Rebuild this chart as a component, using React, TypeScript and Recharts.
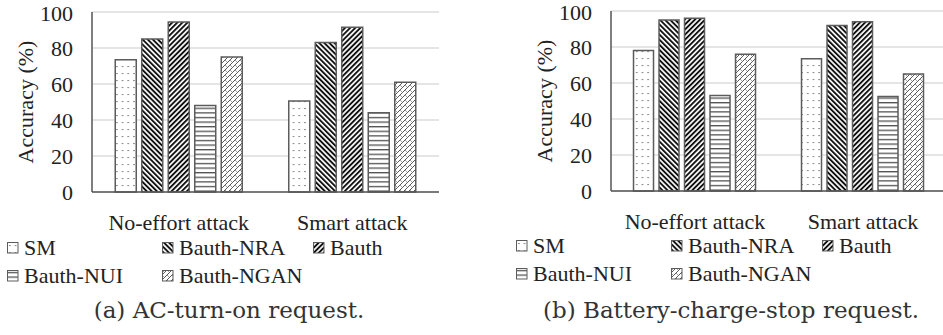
import { BarChart, Bar, XAxis, YAxis, CartesianGrid } from 'recharts';

const categories = ['No-effort attack', 'Smart attack'];
const seriesKeys = ['SM', 'NRA', 'Bauth', 'NUI', 'NGAN'];
const seriesNames = ['SM', 'Bauth-NRA', 'Bauth', 'Bauth-NUI', 'Bauth-NGAN'];
const yTicks = [0, 20, 40, 60, 80, 100];

// (a) AC-turn-on request
const acSM = [73.5, 50.5];
const acNRA = [85, 83];
const acBauth = [94.5, 91.5];
const acNUI = [48, 44];
const acNGAN = [75, 61];

// (b) Battery-charge-stop request
const batSM = [78, 73.5];
const batNRA = [95, 92];
const batBauth = [96, 94];
const batNUI = [53, 52.5];
const batNGAN = [76, 65];

const FONT = '"Liberation Serif", "Times New Roman", serif';
const TEXT = '#222';
const EDGE = '#5c5c5c';
const fills = ['dots', 'back', 'fwd', 'horiz', 'hatch'];

function buildRows(cols: number[][]) {
  return categories.map((name, i) => {
    const row: Record<string, string | number> = { name };
    seriesKeys.forEach((k, j) => (row[k] = cols[j][i]));
    return row;
  });
}

const acRows = buildRows([acSM, acNRA, acBauth, acNUI, acNGAN]);
const batRows = buildRows([batSM, batNRA, batBauth, batNUI, batNGAN]);

function Patterns({ id }: { id: string }) {
  return (
    <defs>
      <pattern id={`${id}-dots`} width={5.7} height={7} patternUnits="userSpaceOnUse">
        <rect width={5.7} height={7} fill="#fff" />
        <rect x={2.3} y={3} width={1.1} height={1.1} fill="#444" />
      </pattern>
      <pattern id={`${id}-back`} width={3.6} height={3.6} patternUnits="userSpaceOnUse" patternTransform="rotate(-45)">
        <rect width={3.6} height={3.6} fill="#fff" />
        <rect width={1.9} height={3.6} fill="#111" />
      </pattern>
      <pattern id={`${id}-fwd`} width={3.6} height={3.6} patternUnits="userSpaceOnUse" patternTransform="rotate(45)">
        <rect width={3.6} height={3.6} fill="#fff" />
        <rect width={1.9} height={3.6} fill="#111" />
      </pattern>
      <pattern id={`${id}-horiz`} width={6} height={4.6} patternUnits="userSpaceOnUse">
        <rect width={6} height={4.6} fill="#fff" />
        <rect y={2} width={6} height={1.1} fill="#333" />
      </pattern>
      <pattern id={`${id}-hatch`} width={5} height={5} patternUnits="userSpaceOnUse">
        <rect width={5} height={5} fill="#fff" />
        <path d="M0 5 L5 0 M-1 1 L1 -1 M4 6 L6 4" stroke="#444" strokeWidth={0.9} />
        <path d="M0 0 L2.5 2.5" stroke="#777" strokeWidth={0.7} />
      </pattern>
    </defs>
  );
}

function Legend({ id, left, top }: { id: string; left: number; top: number }) {
  const cols = [0, 155, 306];
  return (
    <div style={{ position: 'absolute', left, top, width: 460, height: 60 }}>
      {seriesNames.map((name, i) => (
        <div
          key={name}
          style={{
            position: 'absolute',
            left: cols[i % 3],
            top: Math.floor(i / 3) * 28,
            display: 'flex',
            alignItems: 'center',
            fontFamily: FONT,
            fontSize: 22,
            color: TEXT,
            lineHeight: '26px',
            whiteSpace: 'nowrap',
          }}
        >
          <svg width={12} height={12} style={{ marginRight: 5 }}>
            <Patterns id={`${id}-lg${i}`} />
            <rect x={0.5} y={0.5} width={10.5} height={10.5} fill={`url(#${id}-lg${i}-${fills[i]})`} stroke={EDGE} strokeWidth={1} />
          </svg>
          {name}
        </div>
      ))}
    </div>
  );
}

function Panel({ id, rows, marginLeft, width, marginRight }: { id: string; rows: Record<string, string | number>[]; marginLeft: number; width: number; marginRight: number }) {
  return (
    <BarChart
      width={width}
      height={240}
      data={rows}
      margin={{ top: 12, right: marginRight, left: marginLeft, bottom: 8 }}
      barCategoryGap="13.4%"
      barGap={5.5}
    >
      <Patterns id={id} />
      <CartesianGrid vertical={false} stroke="#dcdcdc" strokeWidth={1.5} />
      <XAxis
        dataKey="name"
        height={40}
        tickLine={false}
        tickSize={0}
        tickMargin={22}
        axisLine={{ stroke: '#555', strokeWidth: 1.5 }}
        tick={{ fill: TEXT, fontSize: 22, fontFamily: FONT }}
      />
      <XAxis xAxisId="top" orientation="top" dataKey="name" height={0} tick={false} tickLine={false} axisLine={{ stroke: '#555', strokeWidth: 1.5 }} />
      <YAxis
        width={92}
        domain={[0, 100]}
        ticks={yTicks}
        tickLine={false}
        tickSize={0}
        tickMargin={19}
        axisLine={{ stroke: '#555', strokeWidth: 1.5 }}
        tick={{ fill: TEXT, fontSize: 22, fontFamily: FONT }}
        label={{ value: 'Accuracy (%)', angle: -90, position: 'center', dx: -21, fill: TEXT, fontSize: 22, fontFamily: FONT }}
      />
      <YAxis yAxisId="right" orientation="right" width={0} domain={[0, 100]} tick={false} tickLine={false} axisLine={{ stroke: '#555', strokeWidth: 1.5 }} />
      {seriesKeys.map((k, i) => (
        <Bar
          key={k}
          dataKey={k}
          name={seriesNames[i]}
          fill={`url(#${id}-${fills[i]})`}
          stroke={EDGE}
          strokeWidth={1.5}
          isAnimationActive={false}
        />
      ))}
    </BarChart>
  );
}

const captionStyle = {
  position: 'absolute' as const,
  top: 297,
  fontFamily: '"DejaVu Serif", serif',
  fontSize: 23,
  color: '#333',
  whiteSpace: 'nowrap' as const,
  transform: 'translateX(-50%)',
};

export default function App() {
  return (
    <div style={{ position: 'absolute', left: 0, top: 0, width: 943, height: 335, overflow: 'hidden', background: '#fff' }}>
      <div style={{ position: 'absolute', left: 0, top: 0 }}>
        <Panel id="ac" rows={acRows} marginLeft={0} width={460} marginRight={21} />
      </div>
      <div style={{ position: 'absolute', left: 480, top: -1 }}>
        <Panel id="bat" rows={batRows} marginLeft={39} width={480} marginRight={13} />
      </div>
      <Legend id="ac" left={7} top={235} />
      <Legend id="bat" left={516} top={233} />
      <div style={{ ...captionStyle, left: 229 }}>(a) AC-turn-on request.</div>
      <div style={{ ...captionStyle, left: 731 }}>(b) Battery-charge-stop request.</div>
    </div>
  );
}
